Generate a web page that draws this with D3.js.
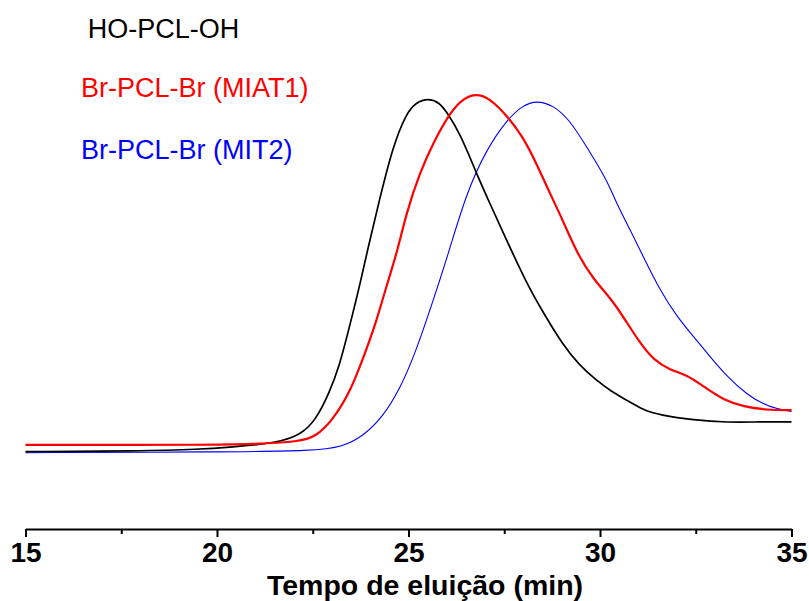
<!DOCTYPE html>
<html>
<head>
<meta charset="utf-8">
<script src="https://cdn.jsdelivr.net/npm/d3@7"></script>
<style>
  html, body { margin: 0; padding: 0; background: #fff; }
  svg { display: block; }
</style>
</head>
<body>
<svg id="chart" width="809" height="601"></svg>
<script>
// ---- Data ----
const xTicks = [15, 20, 25, 30, 35];
const xMinorTicks = [17.5, 22.5, 27.5, 32.5];
const xLabel = "Tempo de eluição (min)";

const seriesNames = ["HO-PCL-OH", "Br-PCL-Br (MIAT1)", "Br-PCL-Br (MIT2)"];
const seriesColors = ["#000000", "#ff0000", "#0000ff"];

// HO-PCL-OH (black)
const blackTime = [15.0, 18.0, 19.5, 20.5, 21.0, 21.7, 22.2, 22.58, 22.93, 23.19, 23.46, 23.72, 23.93, 24.24, 24.59, 24.94, 25.2, 25.51, 25.8, 25.99, 26.34, 26.77, 27.12, 27.56, 28.08, 28.52, 29.04, 29.46, 29.87, 30.3, 30.7, 31.13, 31.57, 32.44, 33.32, 34.19, 35.0];
const blackSignal = [0.1, 0.3, 0.7, 1.5, 2.0, 3.0, 5.0, 9.0, 16.6, 24.0, 35.3, 46.6, 56.9, 71.0, 86.0, 95.4, 98.5, 99.6, 98.5, 95.9, 89.9, 78.6, 70.1, 59.7, 47.6, 39.2, 30.0, 24.5, 20.5, 17.0, 14.6, 11.8, 10.4, 9.0, 8.3, 8.5, 8.5];

// Br-PCL-Br (MIAT1) (red)
const redTime = [15.0, 17.0, 19.5, 21.0, 22.15, 22.58, 23.02, 23.46, 23.80, 24.15, 24.42, 24.72, 24.94, 25.29, 25.64, 26.07, 26.42, 26.77, 27.12, 27.56, 27.99, 28.34, 28.69, 29.04, 29.42, 29.84, 30.28, 30.63, 31.05, 31.4, 31.83, 32.27, 32.71, 33.23, 33.75, 34.36, 35.0];
const redSignal = [2.0, 2.0, 2.0, 2.2, 2.9, 4.3, 9.0, 16.6, 25.9, 36.3, 46.6, 56.9, 67.2, 78.5, 87.0, 95.4, 99.6, 101.0, 99.6, 94.9, 88.8, 81.3, 72.9, 65.0, 55.5, 48.5, 43.3, 37.7, 30.6, 25.9, 23.1, 21.7, 18.4, 14.6, 12.8, 11.8, 11.8];

// Br-PCL-Br (MIT2) (blue)
const blueTime = [15.0, 20.0, 22.58, 23.28, 23.80, 24.33, 24.76, 25.15, 25.64, 26.03, 26.51, 27.03, 27.56, 27.99, 28.34, 28.78, 29.21, 29.65, 30.18, 30.39, 30.79, 31.13, 31.57, 32.01, 32.44, 32.88, 33.32, 33.84, 34.36, 35.0];
const blueSignal = [-0.2, 0.0, 0.3, 1.5, 4.3, 9.9, 17.5, 27.0, 42.5, 55.5, 72.9, 85.1, 93.5, 97.7, 99.0, 97.7, 93.5, 86.0, 76.6, 71.0, 62.5, 55.0, 45.5, 38.1, 32.5, 26.8, 21.2, 16.1, 12.8, 11.4];

// ---- Drawing ----
const svg = d3.select("#chart");

const x = d3.scaleLinear().domain([15, 35]).range([25.5, 791.5]);
const y = d3.scaleLinear().domain([-21.7, 100]).range([529, 97]);

const series = [
  { name: seriesNames[0], color: seriesColors[0], t: blackTime, v: blackSignal, w: 1.7 },
  { name: seriesNames[1], color: seriesColors[1], t: redTime, v: redSignal, w: 2.2 },
  { name: seriesNames[2], color: seriesColors[2], t: blueTime, v: blueSignal, w: 1.1 }
];

const line = d3.line()
  .x(d => x(d[0]))
  .y(d => y(d[1]))
  .curve(d3.curveBasis);

// draw order: blue first, then black, then red on top
[series[2], series[0], series[1]].forEach(s => {
  const pts = s.t.map((t, i) => [t, s.v[i]]);
  svg.append("path")
    .datum(pts)
    .attr("fill", "none")
    .attr("stroke", s.color)
    .attr("stroke-width", s.w)
    .attr("stroke-linejoin", "round")
    .attr("d", line);
});

// X axis
const axisY = y(-21.7);
const axisG = svg.append("g").attr("transform", `translate(0,${axisY})`);
axisG.call(
  d3.axisBottom(x).tickValues(xTicks).tickSize(8).tickSizeOuter(0).tickPadding(5)
    .tickFormat(d3.format("d"))
);
axisG.select(".domain").attr("stroke", "#000").attr("stroke-width", 2.2);
axisG.selectAll(".tick line").attr("stroke", "#000").attr("stroke-width", 2);
axisG.selectAll(".tick text")
  .attr("fill", "#000")
  .attr("font-family", "'Liberation Sans', Arial, sans-serif")
  .attr("font-weight", "bold")
  .attr("font-size", 28);

const minorG = svg.append("g").attr("transform", `translate(0,${axisY})`);
minorG.call(d3.axisBottom(x).tickValues(xMinorTicks).tickSize(5).tickSizeOuter(0).tickFormat(""));
minorG.select(".domain").remove();
minorG.selectAll(".tick line").attr("stroke", "#000").attr("stroke-width", 2);

// X label
svg.append("text")
  .attr("x", 425)
  .attr("y", 594.5)
  .attr("text-anchor", "middle")
  .attr("font-family", "'Liberation Sans', Arial, sans-serif")
  .attr("font-weight", "bold")
  .attr("font-size", 28.5)
  .attr("fill", "#000")
  .text(xLabel);

// Legend texts
const legendPos = [[87.7, 38], [81, 96.5], [81, 158.5]];
series.forEach((s, i) => {
  svg.append("text")
    .attr("x", legendPos[i][0])
    .attr("y", legendPos[i][1])
    .attr("font-family", "'Liberation Sans', Arial, sans-serif")
    .attr("font-size", 27)
    .attr("fill", s.color)
    .text(s.name);
});
</script>
</body>
</html>
